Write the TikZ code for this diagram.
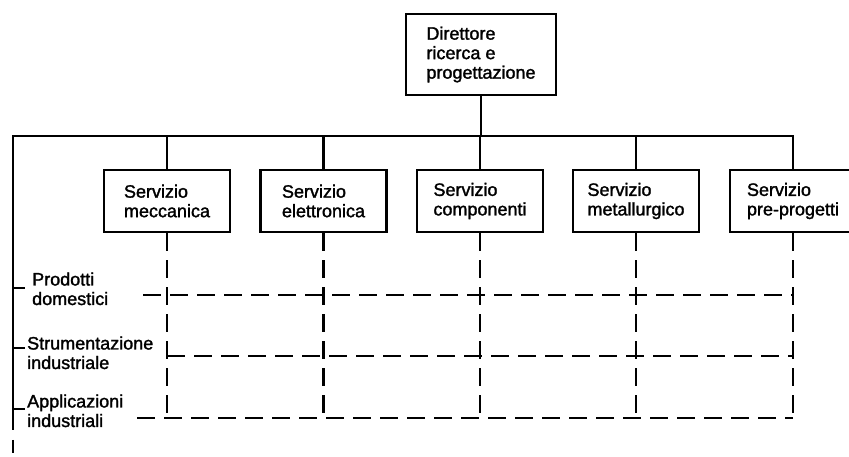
\documentclass[tikz,border=0pt]{standalone}
\usepackage{fontspec}
\setmainfont{Liberation Sans}[FakeBold=1.6]
\begin{document}
\begin{tikzpicture}[x=1pt,y=1pt,
  every node/.style={font=\fontsize{18}{19.5}\selectfont},
  box/.style={draw, line width=2.7pt, align=left, inner sep=0pt,
              minimum width=126pt, minimum height=62pt},
  bus/.style={line width=2.9pt},
  grid/.style={line width=2.8pt, dash pattern=on 18pt off 9pt},
  lbl/.style={anchor=base west, align=left, inner sep=0pt}]
\clip (0,0) rectangle (849,457);

% head of the organisation
\node[box, minimum width=150pt, minimum height=81pt] (dir) at (481,402.5)
  {Direttore\\ricerca e\\progettazione};

% service departments
\node[box] (s1) at (167,256)   {Servizio\\meccanica};
\node[box] (s2) at (323.5,256) {Servizio\\elettronica};
\node[box] (s3) at (480,256)   {Servizio\\componenti};
\node[box] (s4) at (636,256)   {Servizio\\metallurgico};
\node[box] (s5) at (793,256)   {Servizio\\pre-progetti};

% product lines (base anchor sits on the second line)
\node[lbl] (p1) at (32,152) {Prodotti\\domestici};
\node[lbl] (p2) at (27,88)  {Strumentazione\\industriale};
\node[lbl] (p3) at (27,30)  {Applicazioni\\industriali};

% reference points of the lines
\coordinate (busL) at (13,321);
\coordinate (busR) at (s5.north |- busL);
\coordinate (spineEnd) at (13,40);
\coordinate (spineFoot) at (13,0);
\coordinate (t1) at (25,169);
\coordinate (t2) at (25,109);
\coordinate (t3) at (25,48);
\coordinate (r1) at (143,162);
\coordinate (r2) at (s1.south |- 0,101);
\coordinate (r3) at (137,39);

% solid hierarchy
\draw[bus] (dir.south) -- (dir.south |- busL);
\draw[bus] (spineEnd) -- (busL) -- (busR) -- (s5.north);
\foreach \s in {s1,s2,s3,s4}
  \draw[bus] (\s.north |- busL) -- (\s.north);
\draw[bus, dash pattern=on 13pt off 10pt] (spineEnd) -- (spineFoot);
\draw[bus] (busL |- t1) -- (t1);
\draw[bus] (busL |- t2) -- (t2);
\draw[bus] (busL |- t3) -- (t3);

% matrix of dashed responsibilities
\foreach \s in {s1,s2,s3,s4,s5}
  \draw[grid] (\s.south) -- (\s.south |- r3);
\draw[grid] (r1) -- (s5.south |- r1);
\draw[grid] (r2) -- (s5.south |- r2);
\draw[grid] (r3) -- (s5.south |- r3);
\end{tikzpicture}
\end{document}
